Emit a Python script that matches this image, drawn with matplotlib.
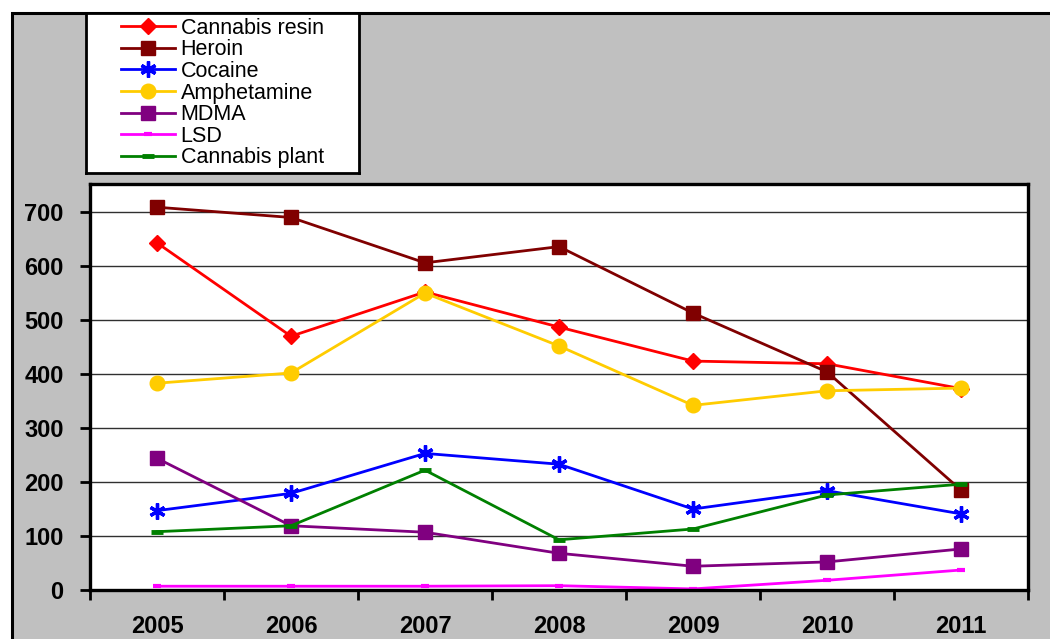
import numpy as np
import matplotlib
matplotlib.use("Agg")
import matplotlib.pyplot as plt
from matplotlib.patches import Rectangle

plt.rcParams['font.family'] = ['Liberation Sans', 'DejaVu Sans']

years = ['2005', '2006', '2007', '2008', '2009', '2010', '2011']
cannabis_resin = [643, 470, 552, 487, 424, 419, 373]
heroin = [709, 690, 606, 636, 513, 404, 185]
cocaine = [147, 179, 253, 233, 150, 184, 141]
amphetamine = [383, 402, 550, 452, 342, 369, 374]
mdma = [244, 119, 107, 68, 44, 52, 76]
lsd = [7, 7, 7, 8, 2, 18, 37]
cannabis_plant = [108, 119, 222, 93, 113, 176, 196]

W, H = 1050, 639
fig = plt.figure(figsize=(W / 100, H / 100), dpi=100, facecolor='white')

# grey chart area with black frame (right/bottom edges run off the canvas)
fig.patches.append(Rectangle((12 / W, -0.2), 1.2, 1 - 13 / H + 0.2,
                             transform=fig.transFigure, facecolor='#C0C0C0',
                             edgecolor='black', lw=2.2, zorder=-5))

ax = fig.add_axes([90 / W, 49 / H, 938 / W, 406 / H])
ax.set_facecolor('white')

x = np.arange(len(years))
lw = 2.0
series = [
    ('Cannabis resin', cannabis_resin, dict(color='#FF0000', marker='D', ms=8.5)),
    ('Heroin', heroin, dict(color='#800000', marker='s', ms=10)),
    ('Cocaine', cocaine, dict(color='#0000FF', marker=(6, 2, 0), ms=11.5, mew=2.4)),
    ('Amphetamine', amphetamine, dict(color='#FFCC00', marker='o', ms=10.5)),
    ('MDMA', mdma, dict(color='#800080', marker='s', ms=10)),
    ('LSD', lsd, dict(color='#FF00FF', marker='_', ms=6, mew=3)),
    ('Cannabis plant', cannabis_plant, dict(color='#008000', marker='_', ms=9, mew=3.5)),
]
handles = []
for name, vals, st in series:
    h, = ax.plot(x, vals, lw=lw, label=name, clip_on=False, **st)
    handles.append(h)

ax.set_xlim(-0.5, 6.5)
ax.set_ylim(0, 752)
ax.set_yticks(np.arange(0, 701, 100))
ax.set_xticks(np.arange(-0.5, 7, 1))
ax.set_xticklabels([])
ax.set_xticks(x, minor=True)
ax.set_xticklabels(years, minor=True)
ax.tick_params(axis='x', which='minor', length=0, pad=18, labelsize=17)
ax.tick_params(axis='x', which='major', direction='out', length=7, width=2)
ax.tick_params(axis='y', direction='out', length=7, width=2, pad=12, labelsize=17)
for lab in ax.get_yticklabels() + ax.get_xticklabels(minor=True):
    lab.set_fontweight('bold')

ax.grid(axis='y', color='#303030', lw=1)
ax.set_axisbelow(True)
for sp in ax.spines.values():
    sp.set_linewidth(2.4)
    sp.set_color('black')

# legend box
lax = fig.add_axes([86 / W, (H - 173) / H, 273 / W, 160 / H])
lax.set_xticks([])
lax.set_yticks([])
lax.set_facecolor('white')
for sp in lax.spines.values():
    sp.set_linewidth(2)
lax.legend(handles, [s[0] for s in series], loc='center', frameon=False,
           fontsize=15.5, labelspacing=0.03, handlelength=2.5,
           handletextpad=0.25, borderpad=0, borderaxespad=0)

fig.savefig('out.png', dpi=100)
